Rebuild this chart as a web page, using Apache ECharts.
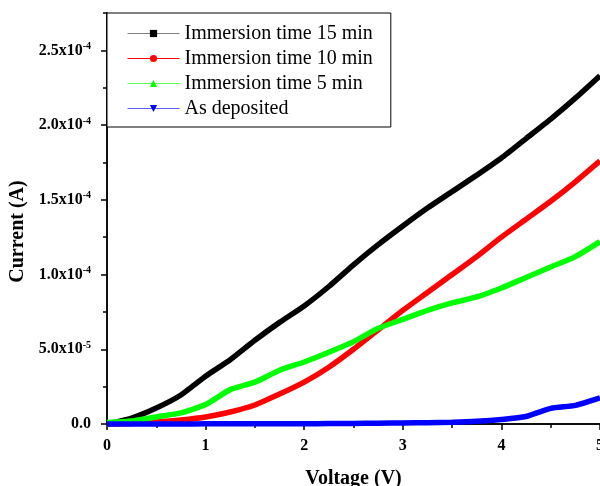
<!DOCTYPE html>
<html>
<head>
<meta charset="utf-8">
<script src="https://cdn.jsdelivr.net/npm/echarts@6/dist/echarts.min.js"></script>
<style>
  html, body { margin: 0; padding: 0; background: #fff; }
  #chart { width: 600px; height: 486px; }
</style>
</head>
<body>
<div id="chart"></div>
<script>
// voltage steps (V)
var voltage = [0, 0.25, 0.5, 0.75, 1, 1.25, 1.5, 1.75, 2, 2.25, 2.5, 2.75, 3, 3.25, 3.5, 3.75, 4, 4.25, 4.5, 4.75, 5];

// current (A)
var min15 = [0, 4e-6, 1.07e-5, 1.94e-5, 3.2e-5, 4.3e-5, 5.6e-5, 6.8e-5, 7.9e-5, 9.2e-5, 1.065e-4, 1.2e-4, 1.325e-4, 1.445e-4, 1.555e-4, 1.665e-4, 1.78e-4, 1.91e-4, 2.04e-4, 2.18e-4, 2.33e-4];
var min10 = [0, 3e-7, 1.3e-6, 2.7e-6, 4.7e-6, 8e-6, 1.27e-5, 2.0e-5, 2.8e-5, 3.8e-5, 5.0e-5, 6.3e-5, 7.6e-5, 8.8e-5, 1.0e-4, 1.12e-4, 1.25e-4, 1.37e-4, 1.49e-4, 1.62e-4, 1.76e-4];
var min5 = [1e-6, 2e-6, 4.7e-6, 7.4e-6, 1.3e-5, 2.3e-5, 2.8e-5, 3.6e-5, 4.15e-5, 4.8e-5, 5.5e-5, 6.4e-5, 7.0e-5, 7.6e-5, 8.1e-5, 8.5e-5, 9.1e-5, 9.8e-5, 1.05e-4, 1.12e-4, 1.22e-4];
var asDep = [0, 0, 0, 0, 1e-7, 1e-7, 1e-7, 2e-7, 2e-7, 3e-7, 4e-7, 5e-7, 7e-7, 9e-7, 1.2e-6, 1.8e-6, 3e-6, 5e-6, 1.05e-5, 1.25e-5, 1.75e-5];

var names = ['Immersion time 15 min', 'Immersion time 10 min', 'Immersion time 5 min', 'As deposited'];
var yTicks = [0, 5e-5, 1e-4, 1.5e-4, 2e-4, 2.5e-4];

var font = 'Liberation Serif';

function pairs(ys) {
  return voltage.map(function (v, i) { return [v, ys[i]]; });
}

function sciLabel(v) {
  if (v === 0) return '{m|0.0}';
  var e = Math.floor(Math.log10(v) + 1e-9);
  var m = (v / Math.pow(10, e)).toFixed(1);
  return '{m|' + m + 'x10}{e|' + e + '}';
}

function makeSeries(name, ys, color, symbol) {
  return {
    name: name,
    type: 'line',
    data: pairs(ys),
    symbol: symbol,
    showSymbol: false,
    smooth: 0.2,
    clip: false,
    lineStyle: { color: color, width: 5.5 },
    itemStyle: { color: color }
  };
}

var chart = echarts.init(document.getElementById('chart'));

var option = {
  animation: false,
  backgroundColor: '#fff',
  grid: { left: 107, right: 0, top: 13, bottom: 62, containLabel: false, outerBoundsMode: 'none' },
  legend: {
    orient: 'vertical',
    left: 107,
    top: 13,
    padding: [10.5, 18, 8.5, 20],
    itemWidth: 52,
    itemHeight: 9,
    itemGap: 5,
    borderColor: '#000',
    borderWidth: 1,
    backgroundColor: '#fff',
    textStyle: { fontFamily: font, fontSize: 20, color: '#000' },
    lineStyle: { width: 1 },
    data: [
      { name: names[0], lineStyle: { color: '#808080', width: 1 } },
      { name: names[1] },
      { name: names[2], lineStyle: { color: '#60ff60', width: 1 } },
      { name: names[3], lineStyle: { color: '#6060ff', width: 1 } }
    ]
  },
  xAxis: [
    {
      type: 'value',
      min: 0,
      max: 5,
      interval: 1,
      name: 'Voltage (V)',
      nameLocation: 'middle',
      nameGap: 45,
      nameTextStyle: { fontFamily: font, fontSize: 20, fontWeight: 'bold', color: '#000' },
      axisLine: { lineStyle: { color: '#000', width: 1.5 } },
      axisTick: { length: 6, lineStyle: { color: '#000', width: 1.5 } },
      minorTick: { show: true, splitNumber: 2, length: 4, lineStyle: { color: '#000', width: 1.5 } },
      axisLabel: { fontFamily: font, fontSize: 16, fontWeight: 'bold', color: '#000', margin: 14 },
      splitLine: { show: false }
    },
    {
      type: 'value',
      position: 'top',
      min: 0,
      max: 5,
      axisLine: { lineStyle: { color: '#000', width: 1.5 } },
      axisTick: { show: false },
      axisLabel: { show: false },
      splitLine: { show: false }
    }
  ],
  yAxis: [
    {
      type: 'value',
      min: 0,
      max: 2.75e-4,
      interval: 5e-5,
      name: 'Current (A)',
      nameLocation: 'middle',
      nameGap: 78,
      nameTextStyle: { fontFamily: font, fontSize: 20, fontWeight: 'bold', color: '#000', padding: [0, 26, 0, 0] },
      axisLine: { show: true, lineStyle: { color: '#000', width: 1.5 } },
      axisTick: { show: true, length: 6, customValues: yTicks, lineStyle: { color: '#000', width: 1.5 } },
      axisLabel: {
        customValues: yTicks,
        margin: 16,
        formatter: sciLabel,
        rich: {
          m: { fontFamily: font, fontSize: 16, fontWeight: 'bold', color: '#000', lineHeight: 18 },
          e: { fontFamily: font, fontSize: 10, fontWeight: 'bold', color: '#000', verticalAlign: 'top', lineHeight: 18 }
        }
      },
      splitLine: { show: false }
    },
    {
      type: 'value',
      position: 'left',
      min: 0,
      max: 2.75e-4,
      interval: 2.5e-5,
      axisLine: { show: true, lineStyle: { color: '#000', width: 1.5 } },
      axisTick: { show: true, length: 4, lineStyle: { color: '#000', width: 1.5 } },
      axisLabel: { show: false },
      splitLine: { show: false }
    }
  ],
  series: [
    makeSeries(names[0], min15, '#000000', 'rect'),
    makeSeries(names[1], min10, '#ff0000', 'circle'),
    makeSeries(names[2], min5, '#00ff00', 'triangle'),
    makeSeries(names[3], asDep, '#0000ff', 'path://M0,0L10,0L5,10Z')
  ]
};

chart.setOption(option, true);
</script>
</body>
</html>
